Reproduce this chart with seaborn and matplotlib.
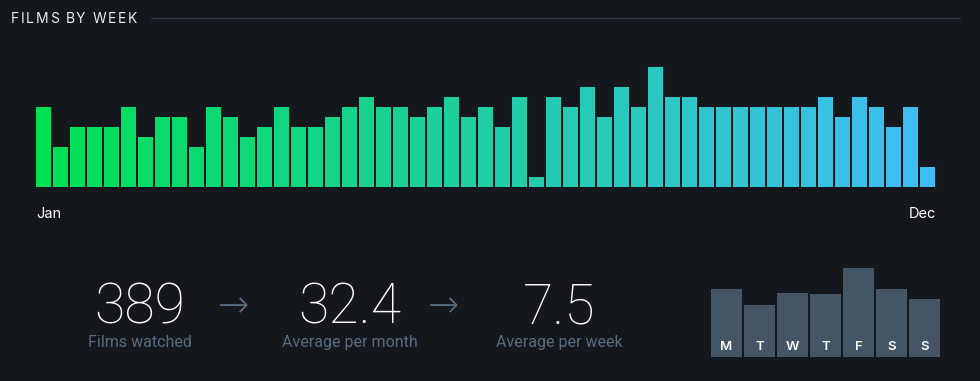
import pandas as pd
import seaborn as sns
import matplotlib.pyplot as plt
from matplotlib.colors import LinearSegmentedColormap
from matplotlib.lines import Line2D

# films watched per week (53 weeks)
week_counts = [8, 4, 6, 6, 6, 8, 5, 7, 7, 4, 8, 7, 5, 6, 8, 6, 6,
               7, 8, 9, 8, 8, 7, 8, 9, 7, 8, 6, 9, 1, 9, 8, 10, 7, 10, 8,
               12, 9, 9, 8, 8, 8, 8, 8, 8, 8, 9, 7, 9, 8, 6, 8, 2]
week_labels = ["W%d" % (i + 1) for i in range(len(week_counts))]

# films per day of week
day_keys = ["Mon", "Tue", "Wed", "Thu", "Fri", "Sat", "Sun"]
day_letters = ["M", "T", "W", "T", "F", "S", "S"]
day_counts = [57, 44, 54, 53, 75, 57, 49]

stat_values = ["389", "32.4", "7.5"]
stat_labels = ["Films watched", "Average per month", "Average per week"]

BG = "#14181c"
W, H = 980, 381

sns.set_theme(style="dark")
plt.rcParams["font.family"] = ["Inter", "DejaVu Sans"]

fig = plt.figure(figsize=(W / 100, H / 100), dpi=100, facecolor=BG)
renderer = fig.canvas.get_renderer()


def fx(x):
    return x / W


def fy(y):
    return 1 - y / H


# --- weekly bars
ax = fig.add_axes([fx(35), fy(187), 901 / W, 120 / H])
ax.set_facecolor(BG)
cmap = LinearSegmentedColormap.from_list("lb", ["#00e054", "#40bcf4"])
n = len(week_counts)
colors = [cmap(i / (n - 1)) for i in range(n)]
df = pd.DataFrame({"week": week_labels, "films": week_counts})
sns.barplot(data=df, x="week", y="films", hue="week", palette=colors,
            legend=False, width=15 / 17, saturation=1, linewidth=0, ax=ax)
ax.set_xlim(-0.5, n - 0.5)
ax.set_ylim(0, 12)
ax.axis("off")

# title with letter spacing + rule
x = 11
for ch in "FILMS BY WEEK":
    t = fig.text(fx(x), fy(23), ch, color="#e8edf2", fontsize=10,
                 ha="left", va="baseline")
    w = t.get_window_extent(renderer).width if ch != " " else 3.5
    x += w + 1.6
fig.add_artist(Line2D([fx(151), fx(960)], [fy(17.5), fy(17.5)],
                      color="#2c3440", lw=1, transform=fig.transFigure))

fig.text(fx(36), fy(218), "Jan", color="#ffffff", fontsize=10.5, ha="left", va="baseline")
fig.text(fx(936), fy(218), "Dec", color="#ffffff", fontsize=10.5, ha="right", va="baseline")

# --- stats
centers = [140, 350, 559]
for cx, val, lab in zip(centers, stat_values, stat_labels):
    fig.text(fx(cx), fy(323), val, color="#ffffff", fontsize=40,
             family=["Roboto", "DejaVu Sans"], fontweight="light",
             ha="center", va="baseline")
    fig.text(fx(cx), fy(347), lab, color="#5a6b7e", fontsize=11.5,
             family=["Roboto", "DejaVu Sans"], ha="center", va="baseline")
for ax_x in [234, 444]:
    fig.text(fx(ax_x), fy(307), "\u2192", color="#5a6b7e", fontsize=27,
             family=["Roboto", "DejaVu Sans"], fontweight="light",
             ha="center", va="center")

# --- day of week bars
ax2 = fig.add_axes([fx(710), fy(357), 231 / W, 89 / H])
ax2.set_facecolor(BG)
dd = pd.DataFrame({"day": day_keys, "films": day_counts})
sns.barplot(data=dd, x="day", y="films", color="#445566", saturation=1,
            width=31 / 33, linewidth=0, ax=ax2)
ax2.set_xlim(-0.5, 6.5)
ax2.set_ylim(0, max(day_counts))
ax2.axis("off")
for i, letter in enumerate(day_letters):
    ax2.annotate(letter, (i, 0), xytext=(0, 2.8), textcoords="offset points",
                 ha="center", va="bottom", color="#ffffff", fontsize=9.5,
                 fontweight="semibold")

fig.savefig("out.png", dpi=100, facecolor=BG)
